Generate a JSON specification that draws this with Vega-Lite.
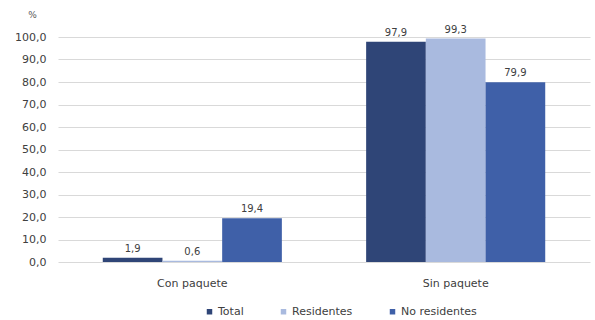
{
  "$schema": "https://vega.github.io/schema/vega-lite/v6.json",
  "width": 532,
  "height": 225,
  "autosize": {"type": "none"},
  "padding": {"left": 58, "top": 37, "right": 5, "bottom": 58},
  "background": "white",
  "config": {
    "locale": {"number": {"decimal": ",", "thousands": ".", "grouping": [3], "currency": ["", " €"]}},
    "font": "DejaVu Sans",
    "view": {"stroke": null}
  },
  "data": {
    "values": [
      {"cat": "Con paquete", "serie": "Total", "value": 1.9},
      {"cat": "Con paquete", "serie": "Residentes", "value": 0.6},
      {"cat": "Con paquete", "serie": "No residentes", "value": 19.4},
      {"cat": "Sin paquete", "serie": "Total", "value": 97.9},
      {"cat": "Sin paquete", "serie": "Residentes", "value": 99.3},
      {"cat": "Sin paquete", "serie": "No residentes", "value": 79.9}
    ]
  },
  "encoding": {
    "x": {
      "field": "cat", "type": "nominal",
      "scale": {"paddingInner": 0.32, "paddingOuter": 0.17},
      "axis": {"title": null, "labelAngle": 0, "ticks": false, "domain": false, "labelPadding": 15, "labelFontSize": 11, "labelColor": "#404040"}
    },
    "xOffset": {"field": "serie", "type": "nominal", "sort": ["Total", "Residentes", "No residentes"]},
    "y": {
      "field": "value", "type": "quantitative",
      "scale": {"domain": [0, 100], "nice": false},
      "axis": {"title": "%", "titleAngle": 0, "titleX": -26, "titleY": -23, "titleAlign": "center", "titleBaseline": "middle", "titleFontWeight": "normal", "titleFontSize": 9, "titleColor": "#595959",
        "format": ".1f", "values": [0,10,20,30,40,50,60,70,80,90,100], "labelOverlap": false,
        "domain": false, "ticks": false, "labelPadding": 12, "labelFontSize": 11, "labelColor": "#404040",
        "gridColor": "#d9d9d9", "gridWidth": 1}
    }
  },
  "layer": [
    {
      "mark": {"type": "bar"},
      "encoding": {
        "color": {
          "field": "serie", "type": "nominal",
          "scale": {"domain": ["Total", "Residentes", "No residentes"], "range": ["#2F4577", "#A9BADF", "#3F60A8"]},
          "legend": {"title": null, "orient": "none", "legendX": 146, "legendY": 269, "direction": "horizontal", "symbolType": "square", "symbolSize": 30, "labelFontSize": 11, "labelColor": "#404040", "columnPadding": 34, "labelOffset": 3}
        }
      }
    },
    {
      "mark": {"type": "text", "dy": -9, "fontSize": 10, "color": "#404040"},
      "encoding": {
        "text": {"field": "value", "type": "quantitative", "format": ".1f"}
      }
    }
  ]
}
